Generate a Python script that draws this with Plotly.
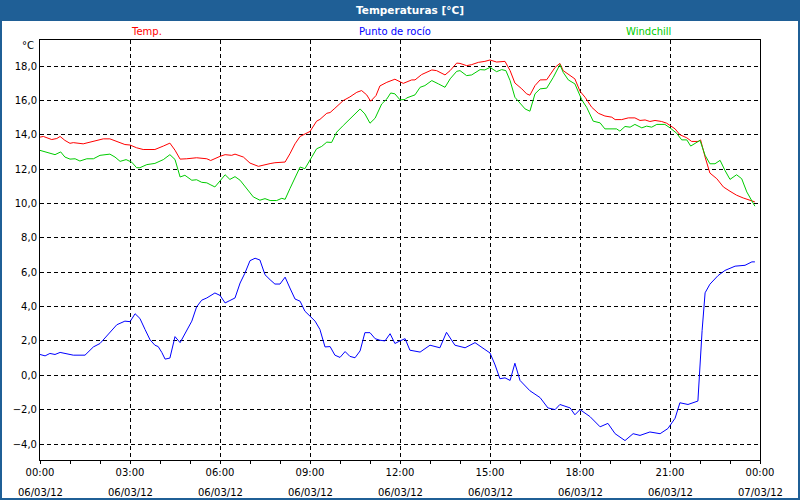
import plotly.graph_objects as go

# hours since 06/03/12 00:00
temp_h = [0, 0.11, 0.39, 0.56, 0.67, 0.83, 1.0, 1.11, 1.44, 1.78, 2.11, 2.33, 2.61, 2.83, 3.0, 3.22, 3.44, 3.83,
          4.11, 4.33, 4.5, 4.67, 4.89, 5.22, 5.56, 5.69, 6.0, 6.17, 6.39, 6.5, 6.78, 7.0, 7.28, 7.44, 7.67, 7.83,
          8.17, 8.33, 8.5, 8.67, 8.83, 9.0, 9.22, 9.33, 9.56, 9.67, 9.83, 10.11, 10.33, 10.56, 10.72, 10.89, 11.02,
          11.2, 11.33, 11.56, 11.83, 12.0, 12.11, 12.39, 12.5, 12.72, 13.06, 13.22, 13.5, 13.67, 13.89, 14.0, 14.22,
          14.39, 14.61, 14.83, 15.0, 15.22, 15.5, 15.67, 15.83, 16.06, 16.22, 16.33, 16.5, 16.67, 16.89, 17.17,
          17.33, 17.44, 17.67, 17.83, 18.0, 18.17, 18.39, 18.61, 18.83, 19.06, 19.17, 19.39, 19.61, 19.83, 20.0,
          20.17, 20.33, 20.5, 20.72, 20.89, 21.17, 21.33, 21.56, 21.72, 21.94, 22.02, 22.17, 22.33, 22.56, 22.78,
          23.0, 23.22, 23.44, 23.67, 23.83]
temp = [13.86, 13.9, 13.72, 13.78, 13.9, 13.67, 13.5, 13.54, 13.47, 13.6, 13.76, 13.76, 13.57, 13.43, 13.4, 13.24,
        13.14, 13.14, 13.34, 13.51, 13.1, 12.58, 12.6, 12.66, 12.6, 12.5, 12.74, 12.84, 12.8, 12.87, 12.7, 12.35,
        12.16, 12.24, 12.32, 12.37, 12.41, 12.89, 13.47, 13.9, 14.02, 14.19, 14.79, 14.89, 15.25, 15.29, 15.54,
        15.99, 16.2, 16.47, 16.57, 16.32, 15.95, 16.28, 16.84, 17.05, 17.23, 17.09, 16.99, 17.19, 17.19, 17.5,
        17.77, 17.73, 17.48, 17.73, 18.17, 18.15, 18.02, 18.08, 18.21, 18.27, 18.35, 18.23, 18.27, 17.73, 17.01,
        16.67, 16.38, 16.3, 16.86, 17.19, 17.2, 17.92, 18.15, 17.73, 17.44, 17.25, 16.53, 16.18, 15.6, 15.25, 15.09,
        15.02, 14.88, 14.88, 14.98, 14.98, 14.83, 14.86, 14.77, 14.83, 14.77, 14.67, 14.34, 14.0, 13.82, 13.61,
        13.61, 13.7, 12.7, 11.77, 11.44, 10.96, 10.71, 10.48, 10.32, 10.19, 10.09]

chill_h = [0, 0.22, 0.5, 0.69, 0.83, 1.0, 1.17, 1.33, 1.56, 1.78, 2.0, 2.33, 2.5, 2.67, 2.87, 3.06, 3.22, 3.33, 3.56,
           3.83, 4.11, 4.33, 4.5, 4.67, 4.83, 5.06, 5.22, 5.39, 5.56, 5.67, 5.83, 6.0, 6.17, 6.33, 6.5, 6.67, 6.89,
           7.11, 7.33, 7.5, 7.67, 7.89, 8.06, 8.17, 8.33, 8.5, 8.67, 8.83, 9.0, 9.22, 9.39, 9.56, 9.72, 9.89, 10.11,
           10.44, 10.67, 10.83, 11.0, 11.17, 11.39, 11.56, 11.69, 11.83, 12.0, 12.17, 12.22, 12.5, 12.67, 12.83,
           13.06, 13.28, 13.5, 13.67, 13.89, 14.0, 14.22, 14.39, 14.67, 14.83, 15.0, 15.22, 15.39, 15.53, 15.67,
           15.83, 16.17, 16.33, 16.5, 16.67, 16.89, 17.11, 17.33, 17.44, 17.61, 17.83, 18.06, 18.22, 18.44, 18.67,
           18.83, 19.22, 19.33, 19.5, 19.67, 19.83, 20.06, 20.22, 20.39, 20.56, 20.83, 21.0, 21.22, 21.39, 21.56,
           21.69, 21.83, 22.0, 22.17, 22.33, 22.5, 22.67, 22.83, 23.0, 23.22, 23.39, 23.56, 23.72, 23.83]
chill = [13.09, 12.99, 12.84, 13.0, 12.7, 12.58, 12.6, 12.47, 12.6, 12.6, 12.8, 12.87, 12.7, 12.45, 12.55, 12.4,
         12.08, 12.08, 12.26, 12.33, 12.55, 12.84, 12.56, 11.54, 11.64, 11.35, 11.38, 11.23, 11.2, 11.1, 10.96,
         11.31, 11.67, 11.4, 11.56, 11.35, 10.86, 10.38, 10.19, 10.28, 10.17, 10.17, 10.3, 10.24, 10.86, 11.54,
         12.12, 12.02, 12.51, 13.18, 13.32, 13.57, 13.55, 14.15, 14.54, 15.12, 15.5, 15.21, 14.67, 14.96, 15.79,
         16.08, 16.43, 16.38, 16.03, 16.05, 16.14, 16.32, 16.76, 16.86, 17.15, 16.96, 16.76, 17.25, 17.69, 17.73,
         17.44, 17.48, 17.79, 17.77, 17.92, 17.67, 17.79, 17.73, 17.15, 16.18, 15.5, 15.37, 16.38, 16.67, 16.71,
         17.34, 18.08, 17.63, 17.19, 16.96, 16.03, 15.6, 14.79, 14.69, 14.34, 14.34, 14.21, 14.48, 14.44, 14.6,
         14.4, 14.5, 14.44, 14.6, 14.6, 14.4, 14.09, 13.7, 13.7, 13.34, 13.51, 13.67, 12.8, 12.31, 12.31, 12.51,
         11.93, 11.4, 11.67, 11.44, 10.67, 10.19, 9.84]

dew_h = [0, 0.17, 0.33, 0.5, 0.67, 0.89, 1.11, 1.5, 1.78, 2.0, 2.22, 2.56, 2.83, 3.0, 3.17, 3.33, 3.5, 3.67, 3.83,
         3.94, 4.06, 4.17, 4.33, 4.5, 4.67, 4.89, 5.06, 5.22, 5.39, 5.56, 5.83, 6.0, 6.17, 6.33, 6.5, 6.67, 6.83,
         7.0, 7.17, 7.33, 7.5, 7.67, 7.83, 8.0, 8.17, 8.33, 8.5, 8.67, 8.83, 9.0, 9.17, 9.33, 9.5, 9.67, 9.83, 10.0,
         10.17, 10.33, 10.5, 10.67, 10.83, 11.0, 11.17, 11.33, 11.5, 11.67, 11.83, 12.0, 12.17, 12.33, 12.67, 13.0,
         13.33, 13.55, 13.83, 14.17, 14.5, 14.83, 15.0, 15.17, 15.33, 15.5, 15.67, 15.83, 16.0, 16.33, 16.67,
         16.93, 17.17, 17.33, 17.67, 17.83, 18.0, 18.33, 18.67, 18.93, 19.17, 19.5, 19.77, 20.0, 20.33, 20.67,
         20.93, 21.17, 21.33, 21.6, 21.93, 22.07, 22.17, 22.33, 22.6, 22.83, 23.17, 23.5, 23.73, 23.83]
dew = [1.21, 1.13, 1.27, 1.21, 1.33, 1.25, 1.17, 1.17, 1.65, 1.85, 2.29, 2.94, 3.15, 3.12, 3.58, 3.31, 2.67, 2.06,
       1.75, 1.67, 1.33, 0.94, 1.0, 2.25, 1.9, 2.62, 3.15, 3.98, 4.37, 4.5, 4.79, 4.65, 4.21, 4.35, 4.5, 5.37, 5.94,
       6.67, 6.81, 6.71, 5.85, 5.56, 5.31, 5.31, 5.71, 5.08, 4.44, 4.31, 3.73, 3.44, 3.15, 2.67, 1.65, 1.67, 1.17,
       1.04, 1.38, 1.1, 1.02, 1.42, 2.48, 2.48, 2.13, 2.04, 2.0, 2.42, 1.85, 2.0, 2.13, 1.46, 1.35, 1.75, 1.6, 2.5,
       1.75, 1.6, 1.9, 1.5, 1.3, 0.6, -0.2, -0.15, -0.3, 0.7, -0.3, -0.9, -1.3, -1.9, -2.0, -1.7, -1.9, -2.3, -2.0,
       -2.4, -3.0, -2.8, -3.4, -3.8, -3.4, -3.5, -3.3, -3.4, -3.1, -2.5, -1.6, -1.7, -1.5, 2.6, 4.8, 5.3, 5.8, 6.1,
       6.35, 6.4, 6.6, 6.6]

tick_hours = [0, 3, 6, 9, 12, 15, 18, 21, 24]
tick_times = ["00:00", "03:00", "06:00", "09:00", "12:00", "15:00", "18:00", "21:00", "00:00"]
tick_dates = ["06/03/12"] * 8 + ["07/03/12"]
y_ticks = [-4, -2, 0, 2, 4, 6, 8, 10, 12, 14, 16, 18]

names = ["Temp.", "Punto de rocío", "Windchill"]
colors = ["#ff0000", "#0000ff", "#00cc00"]

FONT = "DejaVu Sans"
BLUE = "#1f5f96"

fig = go.Figure()
fig.add_trace(go.Scatter(x=temp_h, y=temp, mode="lines", line=dict(color=colors[0], width=1), name=names[0]))
fig.add_trace(go.Scatter(x=dew_h, y=dew, mode="lines", line=dict(color=colors[1], width=1), name=names[1]))
fig.add_trace(go.Scatter(x=chill_h, y=chill, mode="lines", line=dict(color=colors[2], width=1), name=names[2]))

# page pixel -> paper coords (plot area is 40..760 x 40..460)
def px(x):
    return (x - 40) / 720.0

def py(y):
    return (460 - y) / 420.0

shapes = [
    dict(type="rect", xref="paper", yref="paper", x0=px(0), x1=px(800), y0=py(21), y1=py(0),
         fillcolor=BLUE, line=dict(width=0), layer="below"),
    dict(type="rect", xref="paper", yref="paper", x0=px(1), x1=px(799), y0=py(499), y1=py(1),
         fillcolor="rgba(0,0,0,0)", line=dict(color=BLUE, width=2)),
]

annotations = [
    dict(text="<b>Temperaturas [°C]</b>", x=px(410), y=py(10), xref="paper", yref="paper", showarrow=False,
         font=dict(family=FONT, size=10.5, color="white"), xanchor="center", yanchor="middle"),
    dict(text="°C", x=px(36), y=py(46), xref="paper", yref="paper", showarrow=False,
         font=dict(family=FONT, size=10, color="black"), xanchor="right", yanchor="middle"),
]
for nm, c, xc in zip(names, colors, [146, 395, 648]):
    annotations.append(dict(text=nm, x=px(xc), y=py(31), xref="paper", yref="paper", showarrow=False,
                            font=dict(family=FONT, size=10, color=c), xanchor="center", yanchor="middle"))
for h, d in zip(tick_hours, tick_dates):
    annotations.append(dict(text=d, x=h, y=py(492), xref="x", yref="paper", showarrow=False,
                            font=dict(family=FONT, size=10, color="black"), xanchor="center", yanchor="middle"))

fig.update_layout(
    width=800, height=500,
    margin=dict(l=40, r=40, t=40, b=40),
    paper_bgcolor="white", plot_bgcolor="white",
    showlegend=False,
    separators=",.",
    font=dict(family=FONT, size=10, color="black"),
    shapes=shapes,
    annotations=annotations,
    xaxis=dict(range=[0, 24], tickvals=tick_hours, ticktext=tick_times, ticks="outside", ticklen=3,
               tickcolor="black", showgrid=True, gridcolor="black", griddash="4px,3px", gridwidth=1,
               showline=True, linecolor="black", linewidth=1, mirror=True, zeroline=False,
               minor=dict(dtick=1, ticks="outside", ticklen=3, tickcolor="black", showgrid=False)),
    yaxis=dict(range=[-4.931, 19.513], tickvals=y_ticks, tickformat=".1f", ticks="",
               showgrid=True, gridcolor="black", griddash="4px,3px", gridwidth=1,
               showline=True, linecolor="black", linewidth=1, mirror=True, zeroline=False),
)

fig.write_html("out.html", config={"displayModeBar": False},
               post_script="document.body.style.margin='0';")
